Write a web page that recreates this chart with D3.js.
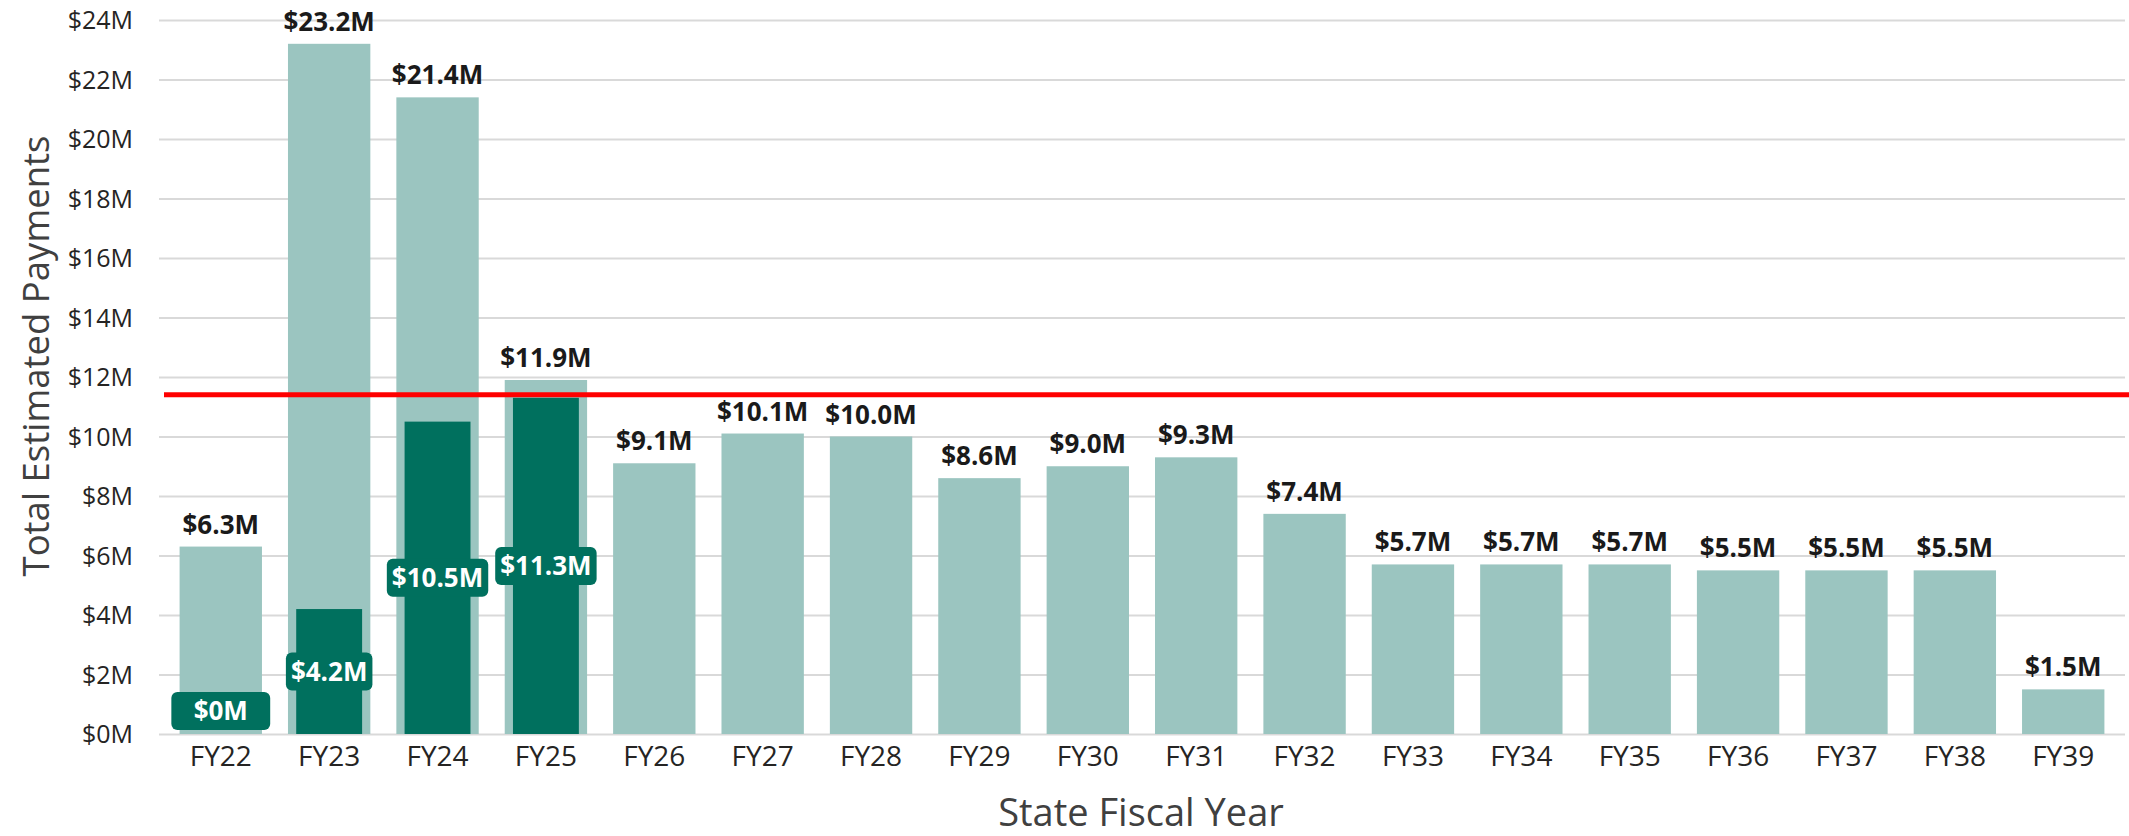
<!DOCTYPE html>
<html>
<head>
<meta charset="utf-8">
<script src="https://cdn.jsdelivr.net/npm/d3@7"></script>
<style>
  html, body { margin: 0; padding: 0; background: #fff; }
  svg { display: block; font-family: "Open Sans", "Segoe UI", sans-serif; }
</style>
</head>
<body>
<svg id="chart" width="2129" height="836"></svg>
<script>
// ---- data ----
const fiscalYears = ["FY22","FY23","FY24","FY25","FY26","FY27","FY28","FY29","FY30","FY31","FY32","FY33","FY34","FY35","FY36","FY37","FY38","FY39"];
const totalEstimated = [6.3, 23.2, 21.4, 11.9, 9.1, 10.1, 10.0, 8.6, 9.0, 9.3, 7.4, 5.7, 5.7, 5.7, 5.5, 5.5, 5.5, 1.5];
const paidYears = ["FY22","FY23","FY24","FY25"];
const paidAmounts = [0, 4.2, 10.5, 11.3];
const yTicks = [0, 2, 4, 6, 8, 10, 12, 14, 16, 18, 20, 22, 24];
const thresholdValue = 11.4;
const yAxisTitle = "Total Estimated Payments";
const xAxisTitle = "State Fiscal Year";

// ---- layout ----
const W = 2129, H = 836;
const margin = { top: 20, right: 4, bottom: 102, left: 159 };
const FONT = '"Open Sans", "Segoe UI", sans-serif';
const svg = d3.select("#chart");

const x = d3.scaleBand()
  .domain(fiscalYears)
  .range([margin.left, W - margin.right])
  .paddingInner(0.24)
  .paddingOuter(0.19);

const y = d3.scaleLinear()
  .domain([0, 24])
  .range([H - margin.bottom, margin.top]);

const fmt = v => "$" + v + "M";
const fmt1 = v => "$" + d3.format(".1f")(v) + "M";

const lightColor = "#9BC5C0";
const darkColor = "#00705E";

// gridlines + y labels via axis
const yAxis = d3.axisLeft(y)
  .tickValues(yTicks)
  .tickSize(-(W - margin.left - margin.right))
  .tickPadding(26)
  .tickFormat(fmt);

const gy = svg.append("g")
  .attr("transform", `translate(${margin.left},0)`)
  .call(yAxis)
  .attr("font-family", FONT);
gy.select(".domain").remove();
gy.selectAll(".tick line").attr("stroke", "#D9D9D9").attr("stroke-width", 2);
gy.selectAll(".tick text")
  .attr("fill", "#252423")
  .style("font-family", FONT)
  .style("font-size", "25px")
  .attr("dy", "0.35em");

// x axis labels
const xAxis = d3.axisBottom(x).tickSize(0).tickPadding(12);
const gx = svg.append("g")
  .attr("transform", `translate(0,${H - margin.bottom})`)
  .call(xAxis)
  .attr("font-family", FONT);
gx.select(".domain").remove();
gx.selectAll(".tick text")
  .attr("fill", "#252423")
  .style("font-family", FONT)
  .style("font-size", "28px");

// light total bars
svg.append("g").selectAll("rect")
  .data(fiscalYears.map((fy, i) => ({ fy, v: totalEstimated[i] })))
  .join("rect")
  .attr("x", d => x(d.fy))
  .attr("width", x.bandwidth())
  .attr("y", d => y(d.v))
  .attr("height", d => y(0) - y(d.v))
  .attr("fill", lightColor);

// total labels
svg.append("g").selectAll("text")
  .data(fiscalYears.map((fy, i) => ({ fy, v: totalEstimated[i] })))
  .join("text")
  .attr("x", d => x(d.fy) + x.bandwidth() / 2)
  .attr("y", d => y(d.v) - 13)
  .attr("text-anchor", "middle")
  .attr("fill", "#1a1a1a")
  .style("font-size", "26px")
  .style("font-weight", "700")
  .text(d => fmt1(d.v));

// dark paid bars
const paidData = paidYears.map((fy, i) => ({ fy, v: paidAmounts[i] }));
const innerW = x.bandwidth() * 0.8;
svg.append("g").selectAll("rect")
  .data(paidData)
  .join("rect")
  .attr("x", d => x(d.fy) + (x.bandwidth() - innerW) / 2)
  .attr("width", innerW)
  .attr("y", d => y(d.v))
  .attr("height", d => y(0) - y(d.v))
  .attr("fill", darkColor);

// threshold line
svg.append("line")
  .attr("x1", margin.left + 5)
  .attr("x2", W)
  .attr("y1", y(thresholdValue))
  .attr("y2", y(thresholdValue))
  .attr("stroke", "#FF0000")
  .attr("stroke-width", 5);

// paid labels with rounded background
const boxH = 38;
const lg = svg.append("g").selectAll("g")
  .data(paidData)
  .join("g");
lg.each(function(d) {
  const g = d3.select(this);
  const cx = x(d.fy) + x.bandwidth() / 2;
  let cy = y(d.v / 2);
  cy = Math.min(cy, y(0) - 4 - boxH / 2);
  const t = g.append("text")
    .attr("x", cx)
    .attr("y", cy)
    .attr("dy", "0.35em")
    .attr("text-anchor", "middle")
    .attr("fill", "#ffffff")
    .style("font-size", "26px")
    .style("font-weight", "700")
    .text(d.v === 0 ? "$0M" : fmt1(d.v));
  const tw = t.node().getComputedTextLength();
  const bw = d.v === 0 ? x.bandwidth() * 1.2 : tw + 10;
  g.insert("rect", "text")
    .attr("x", cx - bw / 2)
    .attr("y", cy - boxH / 2)
    .attr("width", bw)
    .attr("height", boxH)
    .attr("rx", 6)
    .attr("fill", darkColor);
});

// axis titles
svg.append("text")
  .attr("transform", `translate(49,${356}) rotate(-90)`)
  .attr("text-anchor", "middle")
  .attr("fill", "#404040")
  .style("font-size", "36.5px")
  .text(yAxisTitle);

svg.append("text")
  .attr("x", 1141)
  .attr("y", 826)
  .attr("text-anchor", "middle")
  .attr("fill", "#404040")
  .style("font-size", "38px")
  .text(xAxisTitle);
</script>
</body>
</html>
